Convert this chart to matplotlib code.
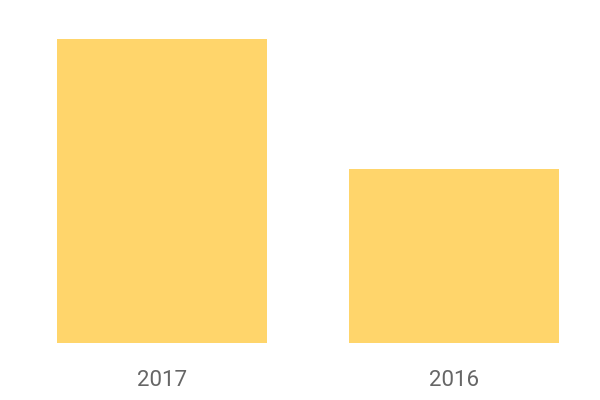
import matplotlib.pyplot as plt

# Data
years = ['2017', '2016']
values = [35, 20]

fig = plt.figure(figsize=(6, 4), dpi=100)
ax = fig.add_axes([0, 0.1425, 1, 0.76])

ax.bar(range(len(years)), values, width=0.719, color='#FFD56B')

ax.set_xlim(-0.555, 1.5)
ax.set_ylim(0, max(values))
ax.set_xticks(range(len(years)))
ax.set_xticklabels(years, fontsize=16, color='#666666', family=['Roboto', 'DejaVu Sans'])
ax.tick_params(axis='x', length=0, pad=19.5)
ax.set_yticks([])
for s in ax.spines.values():
    s.set_visible(False)

fig.savefig('out.png', dpi=100)
